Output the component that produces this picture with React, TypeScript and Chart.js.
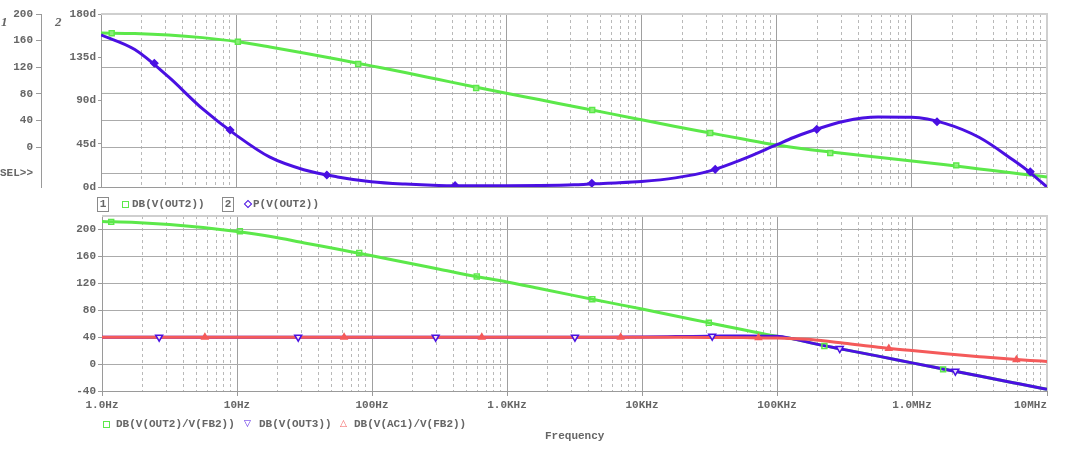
import React, { useEffect, useRef } from "react";
import { Chart, registerables } from "chart.js";

Chart.register(...registerables);

// ---- Frequency sample points (Hz) ----
const FREQ = [
  1, 1.778, 3.162, 5.623, 10, 17.78, 31.62, 56.23, 100, 177.8, 316.2, 562.3,
  1000, 1778, 3162, 5623, 10000, 17783, 31623, 56234, 100000, 133352, 177828,
  316228, 562341, 1000000, 1778279, 3162278, 5623413, 7498942, 10000000,
];

// ---- Top panel series ----
const DB_OUT2 = [
  171.4, 170.7, 168.5, 164.5, 158.7, 150.5, 141.5, 132, 122, 112, 101.5, 91,
  81, 71, 61, 51, 41, 31, 21.5, 12, 3, -0.7, -4, -9.8, -15.3, -20.8, -26.7,
  -32.8, -38.9, -42, -45,
];
const P_OUT2 = [
  158.2, 143, 114.5, 81.5, 54, 31, 18, 10.5, 5.5, 3, 1.6, 1.2, 1.2, 1.5, 2.3,
  4, 5.7, 9.5, 16.5, 29, 44, 51.5, 58, 68.5, 72.8, 72.5, 66, 51.5, 28, 15, 0,
];

// ---- Bottom panel series ----
const DB_OUT2_FB2 = [
  212, 210.5, 207.5, 203, 197, 189.5, 180, 170.5, 161, 151, 141, 131, 122,
  111.8, 101.7, 91.7, 81.7, 71.5, 61.2, 51, 41.2, 37.3, 31.5, 21.5, 11.8, 1.8,
  -8, -17.8, -27.6, -32.5, -37.5,
];
const DB_OUT3 = [
  40, 40, 40, 40, 40, 40, 40, 40, 40, 40, 40, 40, 40, 40, 40, 40, 40.4, 40.9,
  41.4, 41.9, 41.5, 37.3, 31.5, 21.5, 11.8, 1.8, -8, -17.8, -27.6, -32.5, -37.5,
];
const DB_AC1_FB2 = [
  39.9, 39.9, 39.9, 39.9, 39.9, 39.9, 39.9, 39.9, 39.9, 39.9, 39.9, 39.9, 39.9,
  39.9, 39.9, 39.9, 39.9, 39.8, 39.6, 39.3, 38.7, 37.8, 36.5, 31, 25, 20, 15.3,
  11, 7, 5.4, 4,
];

// ---- Marker positions ----
const MK_DB_OUT2_F = [1.2, 10.3, 80, 597, 4310, 32200, 249000, 2130000];
const MK_DB_OUT2_V = [171.2, 158.4, 124.9, 88.8, 55.7, 21.2, -8.9, -27.5];
const MK_P_OUT2_F = [2.48, 9.02, 46.9, 417, 4285, 35070, 198000, 1535000, 7520000];
const MK_P_OUT2_V = [128.7, 59.3, 12.5, 1.4, 3.9, 18.4, 60, 67.9, 15.9];
const MK_DB_OUT2_FB2_F = [1.17, 10.5, 80.4, 597, 4285, 31260, 224400, 1700000];
const MK_DB_OUT2_FB2_V = [211.3, 197.3, 165, 130, 96.2, 61.3, 26.9, -7.9];
const MK_DB_OUT3_F = [2.65, 28.4, 296, 3185, 33110, 291700, 2094000];
const MK_DB_OUT3_V = [40, 40, 40, 40, 41.5, 23, -10.5];
const MK_DB_AC1_F = [5.78, 62.1, 650, 6950, 72950, 673000, 5930000];
const MK_DB_AC1_V = [39.9, 39.9, 39.9, 39.9, 39, 23.3, 6.6];

// ---- Axis ticks / labels ----
const X_DECADES = [1, 10, 100, 1000, 10000, 100000, 1000000, 10000000];
const X_LABELS = ["1.0Hz", "10Hz", "100Hz", "1.0KHz", "10KHz", "100KHz", "1.0MHz", "10MHz"];
const X_MINOR_MULT = [2, 3, 4, 5, 6, 7, 8, 9];
const Y1_TICKS = [-40, 0, 40, 80, 120, 160, 200];
const Y1_LABELS = ["SEL>>", "0", "40", "80", "120", "160", "200"];
const Y2_TICKS = [0, 45, 90, 135, 180];
const Y2_LABELS = ["0d", "45d", "90d", "135d", "180d"];
const YB_TICKS = [-40, 0, 40, 80, 120, 160, 200];
const YB_LABELS = ["-40", "0", "40", "80", "120", "160", "200"];

// ---- Styles ----
const GREEN = "#5ce84a";
const PURPLE = "#4a10e2";
const RED = "#f45a5a";
const TXT = "#666666";
const GRID = "#ababab";
const MINOR = "#b9b9b9";
const AXIS = "#9a9a9a";
const MONO = "'Liberation Mono', 'DejaVu Sans Mono', monospace";
const FONT = { family: MONO, size: 11, weight: "bold" as const };

const pts = (fs: number[], vs: number[]) => fs.map((f, i) => ({ x: f, y: vs[i] }));
const isDecadeVal = (v: number) => X_DECADES.indexOf(v) >= 0;

const X_TICK_VALUES: number[] = (() => {
  const out: number[] = [];
  X_DECADES.forEach((d, i) => {
    out.push(d);
    if (i < X_DECADES.length - 1) X_MINOR_MULT.forEach((m) => out.push(d * m));
  });
  return out;
})();

const framePlugin = {
  id: "frame",
  beforeDatasetsDraw(chart: any) {
    const { ctx, chartArea: a } = chart;
    ctx.save();
    ctx.strokeStyle = "#cfcfcf";
    ctx.lineWidth = 2;
    ctx.beginPath();
    ctx.moveTo(a.left, a.top);
    ctx.lineTo(a.right, a.top);
    ctx.lineTo(a.right, a.bottom);
    ctx.stroke();
    ctx.restore();
  },
};

const xAxis = (showLabels: boolean) => ({
  type: "logarithmic",
  min: 1,
  max: 10000000,
  afterBuildTicks: (s: any) => {
    s.ticks = X_TICK_VALUES.map((v) => ({ value: v, major: isDecadeVal(v) }));
  },
  afterFit: (s: any) => {
    s.height = showLabels ? 20 : 0;
    s.paddingLeft = 0;
    s.paddingRight = 0;
  },
  grid: {
    color: (c: any) => (c.tick && isDecadeVal(c.tick.value) ? "#a0a0a0" : MINOR),
    lineWidth: 1,
    drawTicks: showLabels,
    tickLength: 5,
    tickColor: (c: any) => (c.tick && isDecadeVal(c.tick.value) ? AXIS : "rgba(0,0,0,0)"),
  },
  border: {
    display: true,
    color: AXIS,
    dash: (c: any) => (c.tick && !isDecadeVal(c.tick.value) ? [3, 3] : []),
  },
  ticks: {
    display: showLabels,
    autoSkip: false,
    maxRotation: 0,
    minRotation: 0,
    padding: 3,
    font: FONT,
    color: TXT,
    callback: (v: number) => {
      const i = X_DECADES.indexOf(v);
      if (i < 0) return "";
      return i === X_DECADES.length - 1 ? X_LABELS[i] + "     " : X_LABELS[i];
    },
  },
});

const lineDs = (label: string, data: any[], color: string, yAxisID: string, order: number) => ({
  label,
  data,
  yAxisID,
  borderColor: color,
  backgroundColor: color,
  borderWidth: 3,
  pointRadius: 0,
  fill: false,
  cubicInterpolationMode: "monotone",
  order,
});

const markDs = (
  label: string,
  data: any[],
  yAxisID: string,
  style: string,
  rotation: number,
  border: string,
  bg: string,
  radius: number
) => ({
  label,
  data,
  yAxisID,
  showLine: false,
  pointStyle: style,
  pointRotation: rotation,
  pointRadius: radius,
  pointBorderWidth: 1.5,
  pointBorderColor: border,
  pointBackgroundColor: bg,
  borderColor: border,
  backgroundColor: bg,
  order: 0,
});

export default function App() {
  const topRef = useRef<HTMLCanvasElement | null>(null);
  const botRef = useRef<HTMLCanvasElement | null>(null);

  useEffect(() => {
    const top = new Chart(topRef.current as HTMLCanvasElement, {
      type: "line",
      data: {
        datasets: [
          markDs("m1", pts(MK_DB_OUT2_F, MK_DB_OUT2_V), "y1", "rect", 0, GREEN, "rgba(150,240,130,0.8)", 3.5),
          markDs("m2", pts(MK_P_OUT2_F, MK_P_OUT2_V), "y2", "rectRot", 0, PURPLE, PURPLE, 3.5),
          lineDs("P(V(OUT2))", pts(FREQ, P_OUT2), PURPLE, "y2", 1),
          lineDs("DB(V(OUT2))", pts(FREQ, DB_OUT2), GREEN, "y1", 2),
        ] as any,
      },
      options: {
        animation: false,
        responsive: false,
        maintainAspectRatio: false,
        events: [],
        layout: { padding: { left: 0, right: 33, top: 14, bottom: 13 } },
        plugins: { legend: { display: false }, tooltip: { enabled: false } },
        scales: {
          x: xAxis(false) as any,
          y1: {
            type: "linear",
            position: "left",
            weight: 1,
            min: -60,
            max: 200,
            afterBuildTicks: (s: any) => {
              s.ticks = Y1_TICKS.map((v) => ({ value: v }));
            },
            afterFit: (s: any) => {
              s.width = 41;
              s.paddingTop = 0;
              s.paddingBottom = 0;
            },
            grid: {
              color: GRID,
              lineWidth: 1,
              drawTicks: true,
              tickLength: 5,
              tickColor: (c: any) => (c.tick && c.tick.value === -40 ? "rgba(0,0,0,0)" : AXIS),
            },
            border: { display: true, color: AXIS },
            ticks: {
              padding: 3,
              font: FONT,
              color: TXT,
              callback: (v: number) => {
                const i = Y1_TICKS.indexOf(v);
                return i >= 0 ? Y1_LABELS[i] : "";
              },
            },
          } as any,
          y2: {
            type: "linear",
            position: "left",
            weight: 0,
            min: 0,
            max: 180,
            afterBuildTicks: (s: any) => {
              s.ticks = Y2_TICKS.map((v) => ({ value: v }));
            },
            afterFit: (s: any) => {
              s.width = 60;
              s.paddingTop = 0;
              s.paddingBottom = 0;
            },
            grid: {
              drawOnChartArea: false,
              drawTicks: true,
              tickLength: 3,
              tickColor: AXIS,
            },
            border: { display: true, color: AXIS },
            ticks: {
              padding: 2,
              font: FONT,
              color: TXT,
              callback: (v: number) => {
                const i = Y2_TICKS.indexOf(v);
                return i >= 0 ? Y2_LABELS[i] : "";
              },
            },
          } as any,
        },
      },
      plugins: [framePlugin],
    });

    const bot = new Chart(botRef.current as HTMLCanvasElement, {
      type: "line",
      data: {
        datasets: [
          markDs("m3", pts(MK_DB_OUT2_FB2_F, MK_DB_OUT2_FB2_V), "y", "rect", 0, GREEN, "rgba(255,255,255,0)", 3.5),
          markDs("m4", pts(MK_DB_OUT3_F, MK_DB_OUT3_V), "y", "triangle", 180, PURPLE, "rgba(255,255,255,0.85)", 4),
          markDs("m5", pts(MK_DB_AC1_F, MK_DB_AC1_V), "y", "triangle", 0, RED, RED, 3.5),
          lineDs("DB(V(AC1)/V(FB2))", pts(FREQ, DB_AC1_FB2), RED, "y", 1),
          lineDs("DB(V(OUT3))", pts(FREQ, DB_OUT3), PURPLE, "y", 2),
          lineDs("DB(V(OUT2)/V(FB2))", pts(FREQ, DB_OUT2_FB2), GREEN, "y", 3),
        ] as any,
      },
      options: {
        animation: false,
        responsive: false,
        maintainAspectRatio: false,
        events: [],
        layout: { padding: { left: 0, right: 33, top: 16, bottom: 46 } },
        plugins: { legend: { display: false }, tooltip: { enabled: false } },
        scales: {
          x: xAxis(true) as any,
          y: {
            type: "linear",
            position: "left",
            min: -40,
            max: 220,
            afterBuildTicks: (s: any) => {
              s.ticks = YB_TICKS.map((v) => ({ value: v }));
            },
            afterFit: (s: any) => {
              s.width = 102;
              s.paddingTop = 0;
              s.paddingBottom = 0;
            },
            grid: {
              color: GRID,
              lineWidth: 1,
              drawTicks: true,
              tickLength: 4,
              tickColor: AXIS,
            },
            border: { display: true, color: AXIS },
            ticks: {
              padding: 2,
              font: FONT,
              color: TXT,
              callback: (v: number) => {
                const i = YB_TICKS.indexOf(v);
                return i >= 0 ? YB_LABELS[i] : "";
              },
            },
          } as any,
        },
      },
      plugins: [framePlugin],
    });

    return () => {
      top.destroy();
      bot.destroy();
    };
  }, []);

  const txt = (left: number, top: number, s: string, extra: any = {}) => (
    <div
      style={{
        position: "absolute",
        left,
        top,
        font: `bold 11px ${MONO}`,
        color: TXT,
        lineHeight: "12px",
        whiteSpace: "pre",
        ...extra,
      }}
    >
      {s}
    </div>
  );

  const box = (left: number, s: string) => (
    <div
      style={{
        position: "absolute",
        left,
        top: 197,
        width: 10,
        height: 13,
        border: "1px solid #8a8a8a",
        font: `bold 11px ${MONO}`,
        color: TXT,
        lineHeight: "13px",
        textAlign: "center",
      }}
    >
      {s}
    </div>
  );

  return (
    <div
      style={{
        position: "absolute",
        left: 0,
        top: 0,
        width: 1080,
        height: 457,
        background: "#ffffff",
        overflow: "hidden",
      }}
    >
      <canvas
        ref={topRef}
        width={1080}
        height={200}
        style={{ position: "absolute", left: 0, top: 0, width: 1080, height: 200, display: "block" }}
      />
      <canvas
        ref={botRef}
        width={1080}
        height={257}
        style={{ position: "absolute", left: 0, top: 200, width: 1080, height: 257, display: "block" }}
      />

      {txt(1, 15, "1", { font: "italic bold 13px 'Liberation Serif', serif", lineHeight: "14px" })}
      {txt(55, 15, "2", { font: "italic bold 13px 'Liberation Serif', serif", lineHeight: "14px" })}

      {box(97, "1")}
      <div
        style={{
          position: "absolute",
          left: 122,
          top: 201,
          width: 5,
          height: 5,
          border: `1px solid ${GREEN}`,
        }}
      />
      {txt(132, 198, "DB(V(OUT2))")}
      {box(222, "2")}
      <div
        style={{
          position: "absolute",
          left: 245,
          top: 201,
          width: 4,
          height: 4,
          border: `1px solid ${PURPLE}`,
          transform: "rotate(45deg)",
        }}
      />
      {txt(253, 198, "P(V(OUT2))")}

      <div
        style={{
          position: "absolute",
          left: 103,
          top: 421,
          width: 5,
          height: 5,
          border: `1px solid ${GREEN}`,
        }}
      />
      {txt(116, 418, "DB(V(OUT2)/V(FB2))")}
      {txt(244, 417, "▽", { font: "9px 'DejaVu Sans', sans-serif", color: PURPLE })}
      {txt(259, 418, "DB(V(OUT3))")}
      {txt(340, 417, "△", { font: "9px 'DejaVu Sans', sans-serif", color: RED })}
      {txt(354, 418, "DB(V(AC1)/V(FB2))")}
      {txt(545, 430, "Frequency")}
    </div>
  );
}
